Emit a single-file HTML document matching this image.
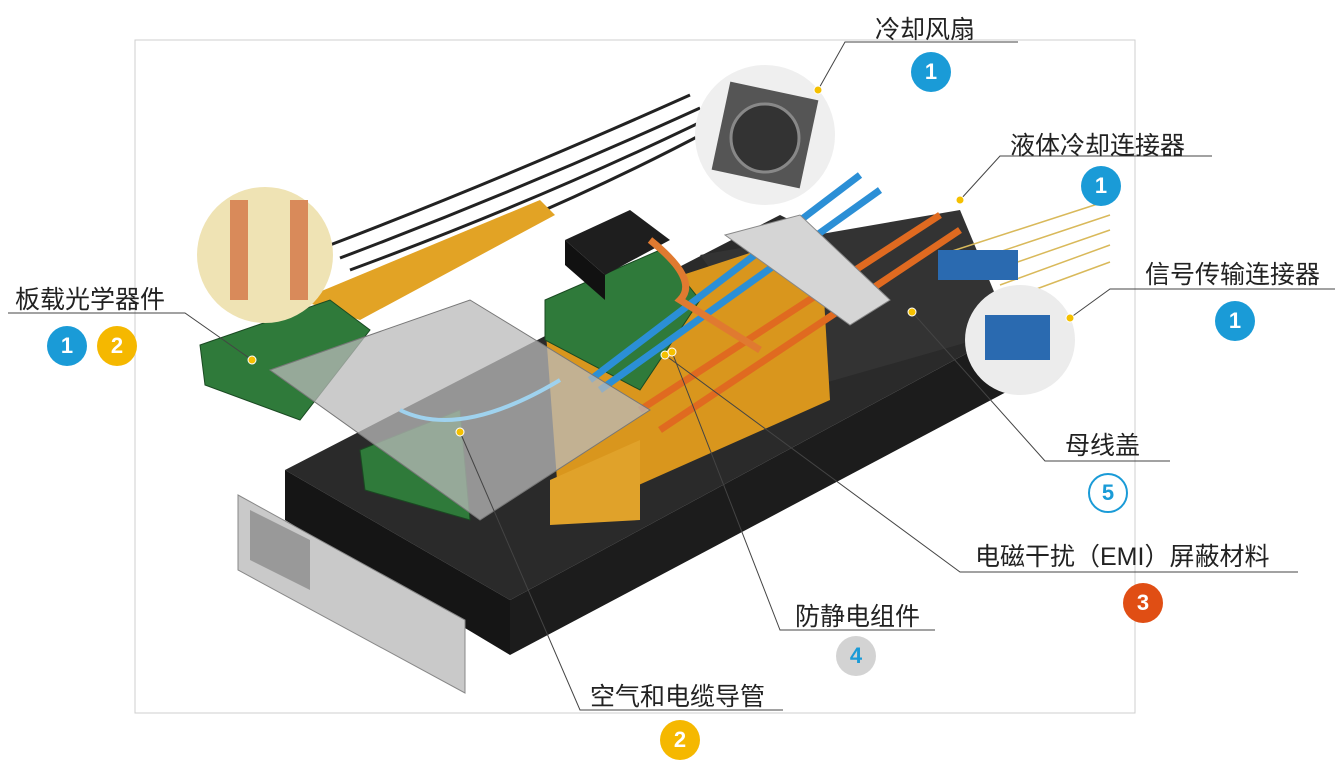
<!DOCTYPE html>
<html><head><meta charset="utf-8"><style>
html,body{margin:0;padding:0;background:#fff;}
body{width:1344px;height:770px;position:relative;overflow:hidden;font-family:"Liberation Sans","Noto Sans CJK SC",sans-serif;}
.lbl{position:absolute;font-size:25px;color:#222;white-space:nowrap;}
.b{position:absolute;width:40px;height:40px;border-radius:50%;color:#fff;font-weight:bold;font-size:22px;line-height:40px;text-align:center;box-sizing:border-box;}
.bl{background:#1a9bd7}.ye{background:#f5b800}.or{background:#e04e14}
</style></head><body>
<svg width="1344" height="770" style="position:absolute;left:0;top:0">
<rect x="135" y="40" width="1000" height="673" fill="#fff" stroke="#cfcfcf" stroke-width="1"/>
<g stroke="#222" stroke-width="3" fill="none">
<path d="M330 245 Q500 180 690 95"/><path d="M340 258 Q520 190 700 108"/><path d="M350 270 Q540 200 705 120"/><path d="M360 285 Q560 210 710 130"/>
</g>
<polygon points="285,470 780,215 1010,330 510,600" fill="#2a2a2a"/>
<polygon points="285,470 510,600 510,655 285,520" fill="#151515"/>
<polygon points="510,600 1010,330 1010,390 510,655" fill="#1c1c1c"/>
<polygon points="700,255 960,210 1010,330 800,390" fill="#333"/>
<polygon points="238,495 465,620 465,693 238,570" fill="#c9c9c9" stroke="#888"/>
<polygon points="250,510 310,540 310,590 250,560" fill="#999"/>
<polygon points="300,300 540,200 555,215 360,320" fill="#e2a325"/>
<polygon points="545,320 820,230 830,400 560,520" fill="#d9961d"/>
<polygon points="550,480 640,440 640,520 550,525" fill="#e0a22a"/>
<polygon points="200,345 330,300 370,330 300,420 205,385" fill="#2f7a3a" stroke="#1a4a22"/>
<polygon points="545,300 660,250 700,300 640,390 545,340" fill="#2f7a3a" stroke="#1a4a22"/>
<polygon points="360,450 460,410 470,520 365,490" fill="#2f7a3a" stroke="#1a4a22"/>
<polygon points="565,240 630,210 670,240 605,275" fill="#1e1e1e"/>
<polygon points="565,240 605,275 605,300 565,265" fill="#111"/>
<g fill="none" stroke-width="7">
<path d="M590 380 L860 175" stroke="#2b8fd6"/><path d="M600 390 L880 190" stroke="#2b8fd6"/>
<path d="M640 410 L940 215" stroke="#e06a20"/><path d="M660 430 L960 230" stroke="#e06a20"/>
<path d="M650 240 Q700 280 680 300 L760 350" stroke="#e07a30"/>
</g>
<polygon points="725,235 800,215 890,300 850,325" fill="#d5d5d5" stroke="#888"/>
<polygon points="270,370 470,300 650,410 480,520" fill="#b9b9b9" fill-opacity="0.75" stroke="#777"/>
<path d="M400 410 Q460 440 560 380" stroke="#9fd2ee" stroke-width="4" fill="none"/>
<g stroke="#d9b95a" stroke-width="1.5">
<path d="M940 255 L1110 200"/><path d="M960 265 L1110 215"/><path d="M980 275 L1110 230"/><path d="M1000 285 L1110 245"/><path d="M1020 295 L1110 262"/>
</g>
<rect x="938" y="250" width="80" height="30" fill="#2a6ab0"/>
<circle cx="765" cy="135" r="70" fill="#efefef"/>
<rect x="720" y="90" width="90" height="90" fill="#555" transform="rotate(12 765 135)"/>
<circle cx="765" cy="138" r="34" fill="#333" stroke="#888" stroke-width="3"/>
<circle cx="265" cy="255" r="68" fill="#efe3b4"/>
<rect x="230" y="200" width="18" height="100" fill="#d98a5a"/><rect x="290" y="200" width="18" height="100" fill="#d98a5a"/>
<circle cx="1020" cy="340" r="55" fill="#ececec"/>
<rect x="985" y="315" width="65" height="45" fill="#2a6ab0"/>
<g stroke="#444" stroke-width="1" fill="none">
<polyline points="818,90 845,42 1018,42"/>
<polyline points="960,200 1000,156 1212,156"/>
<polyline points="1070,318 1110,289 1335,289"/>
<polyline points="252,360 185,313 8,313"/>
<polyline points="912,312 1045,461 1170,461"/>
<polyline points="665,355 960,572 1298,572"/>
<polyline points="672,352 780,630 935,630"/>
<polyline points="460,432 580,710 783,710"/>
</g>
<g fill="#f5c000" stroke="#fff" stroke-width="1">
<circle cx="818" cy="90" r="4"/><circle cx="960" cy="200" r="4"/><circle cx="1070" cy="318" r="4"/><circle cx="252" cy="360" r="4"/><circle cx="912" cy="312" r="4"/><circle cx="665" cy="355" r="4"/><circle cx="672" cy="352" r="4"/><circle cx="460" cy="432" r="4"/>
</g>
</svg>
<div class="lbl" style="left:875px;top:10px">冷却风扇</div>
<div class="b bl" style="left:911px;top:52px">1</div>
<div class="lbl" style="left:1010px;top:126px">液体冷却连接器</div>
<div class="b bl" style="left:1081px;top:166px">1</div>
<div class="lbl" style="left:1145px;top:255px">信号传输连接器</div>
<div class="b bl" style="left:1215px;top:301px">1</div>
<div class="lbl" style="left:15px;top:280px">板载光学器件</div>
<div class="b bl" style="left:47px;top:326px">1</div>
<div class="b ye" style="left:97px;top:326px">2</div>
<div class="lbl" style="left:1065px;top:426px">母线盖</div>
<div class="b" style="left:1088px;top:473px;background:#fff;border:2px solid #1a9bd7;color:#1a9bd7;line-height:36px">5</div>
<div class="lbl" style="left:975px;top:537px">电磁干扰（EMI）屏蔽材料</div>
<div class="b or" style="left:1123px;top:583px">3</div>
<div class="lbl" style="left:795px;top:597px">防静电组件</div>
<div class="b" style="left:836px;top:636px;background:#d3d3d3;color:#1a9bd7">4</div>
<div class="lbl" style="left:590px;top:677px">空气和电缆导管</div>
<div class="b ye" style="left:660px;top:720px">2</div>
</body></html>
